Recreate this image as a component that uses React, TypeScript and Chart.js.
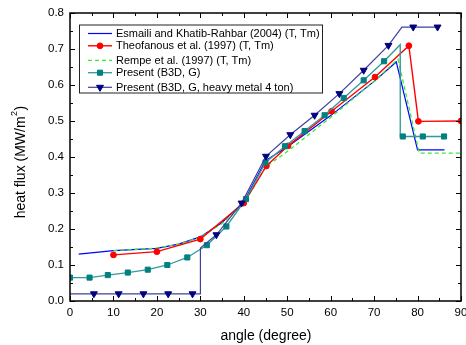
import React, { useEffect, useRef } from "react";
import { Chart, registerables } from "chart.js";
import { drawPoint } from "chart.js/helpers";

Chart.register(...registerables);

const FONT = '"Liberation Sans", Arial, sans-serif';

// ---- data ----
const LEGEND_LABELS = [
  "Esmaili and Khatib-Rahbar (2004) (T, Tm)",
  "Theofanous et al. (1997) (T, Tm)",
  "Rempe et al. (1997) (T, Tm)",
  "Present (B3D, G)",
  "Present (B3D, G, heavy metal 4 ton)",
];

const ESMAILI_X = [2, 10, 20, 25, 30, 35, 40, 45, 50, 60, 70, 75.1, 80, 86.2];
const ESMAILI_Y = [0.13, 0.14, 0.146, 0.158, 0.178, 0.218, 0.275, 0.39, 0.428, 0.515, 0.61, 0.664, 0.42, 0.42];

const THEO_X = [10, 20, 30, 40, 45.2, 50.2, 60.2, 70.2, 78, 80.2, 90];
const THEO_Y = [0.128, 0.137, 0.172, 0.272, 0.375, 0.431, 0.527, 0.622, 0.709, 0.499, 0.5];

const REMPE_X = [10, 20, 25, 30, 35, 40, 45, 50, 60, 70, 75.5, 80.4, 90];
const REMPE_Y = [0.14, 0.147, 0.158, 0.177, 0.215, 0.27, 0.372, 0.415, 0.51, 0.61, 0.672, 0.411, 0.411];

const B3D_X = [0, 4.5, 8.7, 13.3, 17.9, 22.4, 27, 31.5, 36, 40.5, 45, 49.5, 54, 58.6, 63, 67.6, 72.3, 76, 76.02, 76.6, 81.2, 86.1];
const B3D_Y = [0.065, 0.065, 0.072, 0.079, 0.087, 0.1, 0.121, 0.155, 0.207, 0.283, 0.385, 0.43, 0.472, 0.516, 0.564, 0.613, 0.666, 0.712, 0.457, 0.457, 0.457, 0.457];
const B3D_UNMARKED = [17, 18];

const HEAVY_X = [0, 5.5, 11.2, 16.9, 22.6, 28.2, 30, 30.02, 33.7, 39.5, 45.1, 50.7, 56.3, 62, 67.6, 73.3, 76.4, 79, 84.6];
const HEAVY_Y = [0.02, 0.02, 0.02, 0.02, 0.02, 0.02, 0.02, 0.147, 0.184, 0.272, 0.402, 0.462, 0.516, 0.576, 0.641, 0.71, 0.761, 0.761, 0.761];
const HEAVY_UNMARKED = [0, 6, 7, 16];

const X_MIN = 0, X_MAX = 90, X_STEP = 10, X_MINOR = 5;
const Y_MIN = 0, Y_MAX = 0.8, Y_STEP = 0.1, Y_MINOR = 0.05;

const X_TITLE = "angle (degree)";
const Y_TITLE_MAIN = "heat flux (MW/m";
const Y_TITLE_SUP = "2";
const Y_TITLE_END = ")";

function pts(xs: number[], ys: number[]) {
  return xs.map((x, i) => ({ x, y: ys[i] }));
}

type Style = {
  line: string;
  marker: string;
  dash: number[];
  pointStyle: string | false;
  radius: number;
  rotation: number;
  width: number;
};

const STYLES: Style[] = [
  { line: "#0000ff", marker: "#0000ff", dash: [], pointStyle: false, radius: 0, rotation: 0, width: 1.2 },
  { line: "#ff0000", marker: "#ff0000", dash: [], pointStyle: "circle", radius: 2.9, rotation: 0, width: 1.4 },
  { line: "#33ee33", marker: "#33ee33", dash: [4, 3], pointStyle: false, radius: 0, rotation: 0, width: 1.3 },
  { line: "#339999", marker: "#008080", dash: [], pointStyle: "rect", radius: 3.6, rotation: 0, width: 1.3 },
  { line: "#40409c", marker: "#000080", dash: [], pointStyle: "triangle", radius: 4, rotation: 180, width: 1.2 },
];

const LEGEND_ROWS_Y = [33.5, 45.8, 60.3, 72.7, 87.3];

const decorPlugin = {
  id: "decor",
  afterDraw(chart: any) {
    const ctx: CanvasRenderingContext2D = chart.ctx;
    const { left, right, top, bottom } = chart.chartArea;
    const xs = chart.scales.x;
    const ys = chart.scales.y;
    ctx.save();
    ctx.strokeStyle = "#000";
    ctx.lineWidth = 1;
    // x ticks (inward, top & bottom)
    const nx = Math.round((X_MAX - X_MIN) / X_MINOR);
    for (let i = 0; i <= nx; i++) {
      const v = X_MIN + i * X_MINOR;
      const len = i % 2 === 0 ? 5 : 3;
      const px = Math.round(xs.getPixelForValue(v)) + 0.5;
      ctx.beginPath();
      ctx.moveTo(px, bottom);
      ctx.lineTo(px, bottom - len);
      ctx.moveTo(px, top);
      ctx.lineTo(px, top + len);
      ctx.stroke();
    }
    const ny = Math.round((Y_MAX - Y_MIN) / Y_MINOR);
    for (let i = 0; i <= ny; i++) {
      const v = Y_MIN + i * Y_MINOR;
      const len = i % 2 === 0 ? 5 : 3;
      const py = Math.round(ys.getPixelForValue(v)) + 0.5;
      ctx.beginPath();
      ctx.moveTo(left, py);
      ctx.lineTo(left + len, py);
      ctx.moveTo(right, py);
      ctx.lineTo(right - len, py);
      ctx.stroke();
    }
    // frame
    ctx.lineWidth = 1.5;
    ctx.strokeRect(left, top, right - left, bottom - top);

    // legend
    const bx = 79.5, by = 25, bw = 243, bh = 68;
    ctx.fillStyle = "#fff";
    ctx.fillRect(bx, by, bw, bh);
    ctx.lineWidth = 1;
    ctx.strokeStyle = "#222";
    ctx.strokeRect(bx, by, bw, bh);
    ctx.font = `11px ${FONT}`;
    ctx.textBaseline = "middle";
    ctx.textAlign = "left";
    LEGEND_LABELS.forEach((label, i) => {
      const s = STYLES[i];
      const y = LEGEND_ROWS_Y[i];
      ctx.save();
      ctx.strokeStyle = s.line;
      ctx.lineWidth = s.width;
      ctx.setLineDash(s.dash);
      ctx.beginPath();
      ctx.moveTo(88, y);
      ctx.lineTo(112, y);
      ctx.stroke();
      ctx.restore();
      if (s.pointStyle) {
        ctx.save();
        ctx.fillStyle = s.marker;
        ctx.strokeStyle = s.marker;
        ctx.lineWidth = 1;
        drawPoint(ctx, { pointStyle: s.pointStyle as any, rotation: s.rotation, radius: s.radius, borderWidth: 1 } as any, 100, y);
        ctx.restore();
      }
      ctx.fillStyle = "#000";
      ctx.fillText(label, 116, y + 0.5);
    });

    // axis titles
    ctx.fillStyle = "#000";
    ctx.font = `14px ${FONT}`;
    ctx.textAlign = "center";
    ctx.textBaseline = "middle";
    ctx.fillText(X_TITLE, 266, 336);

    ctx.save();
    ctx.translate(21, 162);
    ctx.rotate(-Math.PI / 2);
    ctx.textAlign = "left";
    ctx.textBaseline = "middle";
    ctx.font = `14px ${FONT}`;
    const w1 = ctx.measureText(Y_TITLE_MAIN).width;
    const w3 = ctx.measureText(Y_TITLE_END).width;
    ctx.font = `9px ${FONT}`;
    const w2 = ctx.measureText(Y_TITLE_SUP).width;
    const total = w1 + w2 + w3 + 1;
    let x0 = -total / 2;
    ctx.font = `14px ${FONT}`;
    ctx.fillText(Y_TITLE_MAIN, x0, 0);
    x0 += w1 + 0.5;
    ctx.font = `9px ${FONT}`;
    ctx.fillText(Y_TITLE_SUP, x0, -6);
    x0 += w2 + 0.5;
    ctx.font = `14px ${FONT}`;
    ctx.fillText(Y_TITLE_END, x0, 0);
    ctx.restore();

    ctx.restore();
  },
};

export default function App() {
  const ref = useRef<HTMLCanvasElement | null>(null);

  useEffect(() => {
    if (!ref.current) return;
    const series = [
      { xs: ESMAILI_X, ys: ESMAILI_Y, unmarked: [] as number[] },
      { xs: THEO_X, ys: THEO_Y, unmarked: [] as number[] },
      { xs: REMPE_X, ys: REMPE_Y, unmarked: [] as number[] },
      { xs: B3D_X, ys: B3D_Y, unmarked: B3D_UNMARKED },
      { xs: HEAVY_X, ys: HEAVY_Y, unmarked: HEAVY_UNMARKED },
    ];
    const drawOrder = [4, 2, 3, 1, 0];
    const datasets = series.map((s, i) => {
      const st = STYLES[i];
      return {
        label: LEGEND_LABELS[i],
        data: pts(s.xs, s.ys),
        borderColor: st.line,
        backgroundColor: st.marker,
        pointBackgroundColor: st.marker,
        pointBorderColor: st.marker,
        pointBorderWidth: 1,
        borderWidth: st.width,
        borderDash: st.dash,
        pointStyle: st.pointStyle || "circle",
        pointRotation: st.rotation,
        pointRadius: (c: any) => (st.pointStyle && !s.unmarked.includes(c.dataIndex) ? st.radius : 0),
        pointHoverRadius: 0,
        tension: 0,
        fill: false,
        order: drawOrder[i],
      };
    });

    const chart = new Chart(ref.current, {
      type: "line",
      data: { datasets } as any,
      options: {
        responsive: false,
        animation: false,
        devicePixelRatio: 1,
        events: [],
        layout: { padding: { top: 13, right: 5, left: 0, bottom: 0 } },
        plugins: { legend: { display: false }, tooltip: { enabled: false } },
        scales: {
          x: {
            type: "linear",
            min: X_MIN,
            max: X_MAX,
            grid: { display: false, drawTicks: false },
            border: { display: false },
            ticks: {
              stepSize: X_STEP,
              padding: 5,
              autoSkip: false,
              maxRotation: 0,
              color: "#000",
              font: { family: FONT, size: 11.5 },
            },
            afterFit: (s: any) => {
              s.height = 44;
              s.paddingLeft = 0;
              s.paddingRight = 0;
            },
          },
          y: {
            type: "linear",
            min: Y_MIN,
            max: Y_MAX,
            grid: { display: false, drawTicks: false },
            border: { display: false },
            ticks: {
              stepSize: Y_STEP,
              padding: 6,
              color: "#000",
              font: { family: FONT, size: 11.5 },
              callback: (v: any) => Number(v).toFixed(1),
            },
            afterFit: (s: any) => {
              s.width = 70;
              s.paddingTop = 0;
              s.paddingBottom = 0;
            },
          },
        },
      } as any,
      plugins: [decorPlugin],
    });
    return () => chart.destroy();
  }, []);

  return (
    <div style={{ position: "fixed", left: 0, top: 0, width: 466, height: 345, background: "#fff" }}>
      <canvas ref={ref} width={466} height={345} style={{ display: "block" }} />
    </div>
  );
}
